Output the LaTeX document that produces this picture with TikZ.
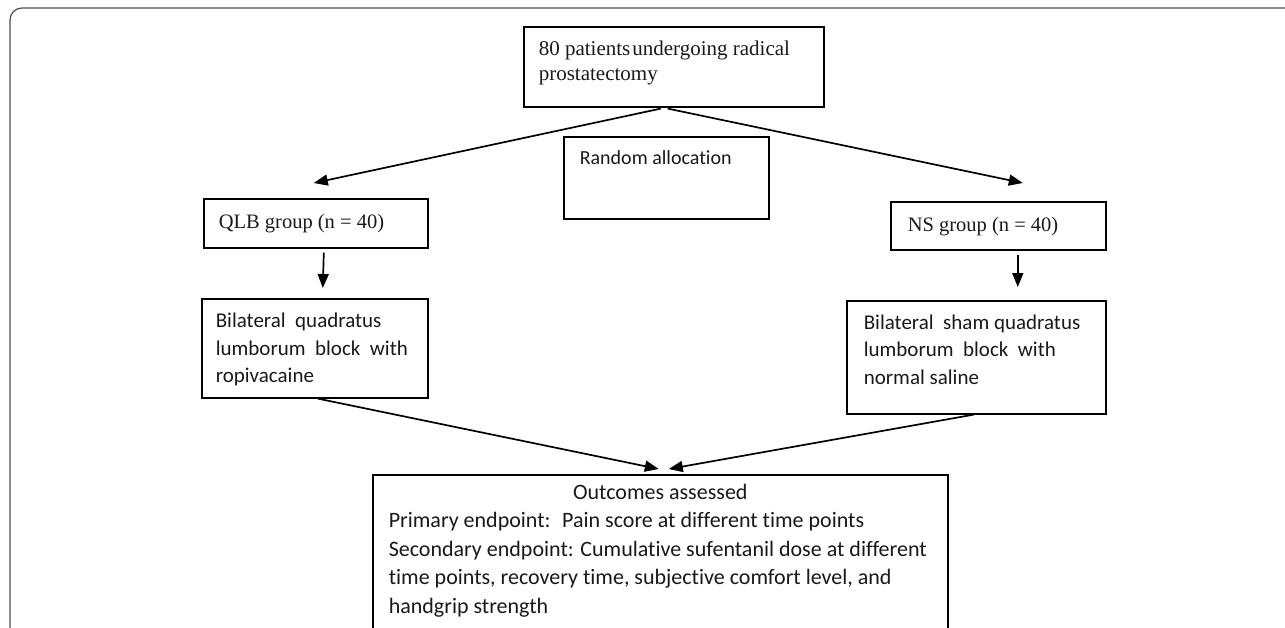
\documentclass[tikz,border=0pt]{standalone}
\usepackage{fontspec}
\setmainfont{Carlito}[Ligatures=NoCommon]
\newfontfamily\timesfont{Liberation Serif}
\usetikzlibrary{arrows.meta}
\tikzset{>={Triangle[length=14pt,width=11pt]},
  flowbox/.style={draw, line width=1.6pt, anchor=north west, inner sep=0pt, text=black!90},
  arr/.style={->, line width=1.7pt}}

\begin{document}
\begin{tikzpicture}[x=1pt, y=-1pt]
\useasboundingbox (0,0) rectangle (1285,627);
\clip (0,0) rectangle (1285,627);
\draw[gray!60!black, line width=1.2pt, rounded corners=12pt] (10,8) rectangle (1330,700);

\node[flowbox, inner xsep=15pt, inner ysep=14pt, font=\timesfont\fontsize{21}{25}\selectfont] (pat) at (523,26)
  {\parbox[t][52pt][t]{270pt}{\raggedright 80 patients\hspace{2pt}undergoing radical\\prostatectomy}};
\node[flowbox, inner xsep=16pt, inner ysep=14pt, font=\fontsize{20}{25}\selectfont] (rand) at (563,136)
  {\parbox[t][54pt][t]{173pt}{\raggedright Random allocation}};
\node[flowbox, inner xsep=15pt, inner ysep=15.5pt, font=\timesfont\fontsize{20.5}{24}\selectfont] (qlb) at (203,198)
  {\parbox[t][18pt][t]{194pt}{\raggedright QLB group (n = 40)}};
\node[flowbox, inner xsep=17pt, inner ysep=15pt, font=\timesfont\fontsize{20.5}{24}\selectfont] (ns) at (890,201)
  {\parbox[t][18pt][t]{181pt}{\raggedright NS group (n = 40)}};
\node[flowbox, inner xsep=14pt, inner ysep=14.5pt, font=\fontsize{21}{27.5}\selectfont] (bqlb) at (201,298)
  {\parbox[t][70pt][t]{198pt}{\raggedright Bilateral~ quadratus\\lumborum~ block~ with\\ropivacaine}};
\node[flowbox, inner xsep=17pt, inner ysep=14pt, font=\fontsize{21}{27.5}\selectfont] (bns) at (846,300)
  {\parbox[t][85pt][t]{225pt}{\raggedright Bilateral~ sham quadratus\\lumborum~ block~ with\\normal saline}};
\node[flowbox, inner xsep=16pt, inner ysep=9pt, font=\fontsize{22}{28.5}\selectfont] (outc) at (372,474)
  {\parbox[t][200pt][t]{543pt}{{\centering Outcomes assessed\par}\raggedright
   Primary endpoint:~ Pain score at different time points\\
   Secondary endpoint: Cumulative sufentanil dose at different\\
   time points, recovery time, subjective comfort level, and\\
   handgrip strength}};

% arrows
\draw[arr] ([xshift=-13pt,yshift=-1pt]pat.south) -- ([xshift=-2pt,yshift=15pt]qlb.north);
\draw[arr] ([xshift=-6pt,yshift=-1pt]pat.south) -- ([xshift=24.5pt,yshift=18pt]ns.north);
\draw[arr] ([xshift=8pt,yshift=-4pt]qlb.south) -- ([xshift=8pt,yshift=10pt]bqlb.north);
\draw[arr] ([xshift=19.5pt,yshift=-4pt]ns.south) -- ([xshift=41.5pt,yshift=13pt]bns.north);
\draw[arr] ([xshift=3pt]bqlb.south) -- ([xshift=-1.5pt,yshift=5pt]outc.north);
\draw[arr] ([xshift=-2.5pt]bns.south) -- ([xshift=8.5pt,yshift=5pt]outc.north);
\end{tikzpicture}
\end{document}
